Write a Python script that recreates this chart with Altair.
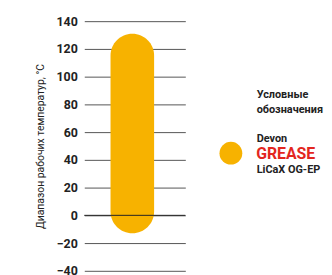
import altair as alt
import pandas as pd

products = ["Devon GREASE LiCaX OG-EP"]
temp_low = [-13]
temp_high = [131]
y_ticks = [-40, -20, 0, 20, 40, 60, 80, 100, 120, 140]

legend_title = ["Условные", "обозначения"]
legend_lines = ["Devon", "GREASE", "LiCaX OG-EP"]

ORANGE = "#F7B200"
RED = "#E3261E"
FONT = "Roboto"

df = pd.DataFrame({"product": products, "low": temp_low, "high": temp_high})
zero_df = pd.DataFrame({"low": [0]})

yscale = alt.Scale(domain=[-40, 140], nice=False, zero=False)
yaxis = alt.Axis(values=y_ticks, title="Диапазон рабочих температур, °C",
                 domain=False, ticks=False, grid=True, gridColor="#555555",
                 gridWidth=1, gridOpacity=1, labelFont=FONT, labelFontSize=12.5,
                 labelFontWeight="bold", labelColor="#222222", labelPadding=7,
                 labelOverlap=False, labelBound=False, labelFlush=False,
                 titleFont=FONT, titleFontSize=10.5, titleFontWeight="normal",
                 titleColor="#222222", titlePadding=11)

bar = alt.Chart(df).mark_bar(cornerRadius=22, color=ORANGE).encode(
    y=alt.Y("low:Q", scale=yscale, axis=yaxis),
    y2="high:Q",
    x=alt.value(26.5),
    x2=alt.value(70.5),
)

zero = alt.Chart(zero_df).mark_rule(color="#222222", strokeWidth=1).encode(
    y=alt.Y("low:Q", scale=yscale, axis=yaxis),
    x=alt.value(0), x2=alt.value(102),
)

legend_df = pd.DataFrame({"product": products})
dot = alt.Chart(legend_df).mark_point(filled=True, shape="circle", size=530,
                                      color=ORANGE, opacity=1).encode(
    x=alt.value(148), y=alt.value(133.3))

def txt(s, x, y, size, color="#222222"):
    return alt.Chart(pd.DataFrame({"t": [s]})).mark_text(
        font=FONT, fontSize=size, fontWeight="bold", color=color,
        align="left", baseline="alphabetic").encode(
        text="t:N", x=alt.value(x), y=alt.value(y))

texts = [
    txt(legend_title[0], 174, 77.5, 11),
    txt(legend_title[1], 174, 92.5, 11),
    txt(legend_lines[0], 174, 122, 11),
    txt(legend_lines[1], 173.5, 139.3, 16, RED),
    txt(legend_lines[2], 174, 153, 11),
]

chart = alt.layer(bar, zero, dot, *texts).properties(
    width=102, height=252,
    autosize=alt.AutoSizeParams(type="none"),
    padding={"left": 77, "top": 12, "right": 140, "bottom": 10},
).configure_view(stroke=None)

chart.save("out.html", embed_options={"renderer": "svg", "actions": False})
